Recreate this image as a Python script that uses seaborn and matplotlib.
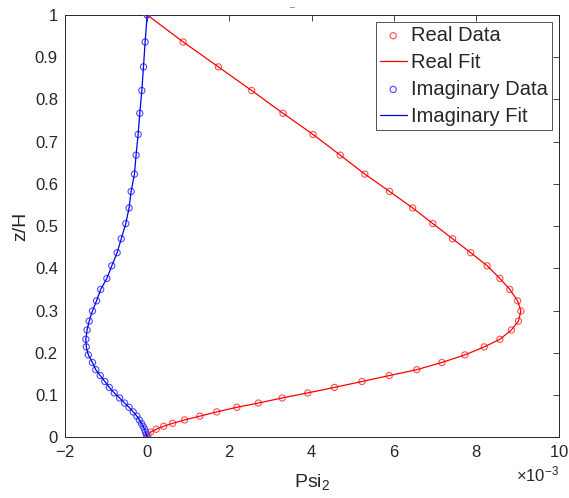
import numpy as np
import seaborn as sns
import matplotlib.pyplot as plt
from matplotlib.ticker import ScalarFormatter, FuncFormatter

# z/H levels (shared by both series)
z = [1.000, 0.936, 0.877, 0.821, 0.767, 0.717, 0.668, 0.623, 0.582, 0.543,
     0.506, 0.470, 0.437, 0.406, 0.376, 0.350, 0.323, 0.299, 0.275, 0.254,
     0.232, 0.214, 0.195, 0.177, 0.160, 0.146, 0.132, 0.118, 0.105, 0.093,
     0.081, 0.071, 0.060, 0.050, 0.041, 0.033, 0.026, 0.019, 0.012, 0.006, 0.000]

# values in units of 1e-3
psi_real = [0.0, 0.875, 1.73, 2.54, 3.30, 4.03, 4.69, 5.29, 5.89, 6.45,
            6.94, 7.42, 7.86, 8.26, 8.57, 8.81, 9.00, 9.08, 9.02, 8.85,
            8.57, 8.19, 7.72, 7.16, 6.55, 5.88, 5.22, 4.55, 3.90, 3.28,
            2.70, 2.18, 1.69, 1.28, 0.91, 0.62, 0.40, 0.22, 0.08, 0.02, 0.0]
psi_imag = [0.0, -0.05, -0.09, -0.13, -0.18, -0.22, -0.27, -0.31, -0.39, -0.44,
            -0.52, -0.63, -0.73, -0.86, -0.98, -1.13, -1.23, -1.33, -1.41, -1.46,
            -1.49, -1.48, -1.43, -1.33, -1.25, -1.14, -1.03, -0.92, -0.80, -0.67,
            -0.55, -0.44, -0.34, -0.25, -0.19, -0.14, -0.10, -0.065, -0.04, -0.02, 0.0]

xr = np.array(psi_real) * 1e-3
xi = np.array(psi_imag) * 1e-3

sns.set_theme(style="white")
plt.rcParams['font.family'] = ['Liberation Sans', 'DejaVu Sans']
plt.rcParams['mathtext.fontset'] = 'custom'
plt.rcParams['mathtext.rm'] = 'Liberation Sans'

fig = plt.figure(figsize=(5.69, 4.98), dpi=100)
ax = fig.add_axes([0.114, 0.122, 0.868, 0.848])

sns.scatterplot(x=xr, y=z, ax=ax, marker='o', s=20, facecolor='none',
                edgecolor='#ff5050', linewidth=0.8, label='Real Data', zorder=3)
sns.lineplot(x=xr, y=z, ax=ax, sort=False, estimator=None, color='red',
             linewidth=0.9, label='Real Fit', zorder=4)
sns.scatterplot(x=xi, y=z, ax=ax, marker='o', s=20, facecolor='none',
                edgecolor='#4a4aff', linewidth=0.8, label='Imaginary Data', zorder=5)
sns.lineplot(x=xi, y=z, ax=ax, sort=False, estimator=None, color='#0000ee',
             linewidth=0.9, label='Imaginary Fit', zorder=6)

ax.set_xlim(-2e-3, 10e-3)
ax.set_ylim(0, 1)
ax.set_xticks(np.arange(-2, 11, 2) * 1e-3)
ax.set_yticks(np.arange(0, 1.01, 0.1))
ax.yaxis.set_major_formatter(FuncFormatter(lambda v, p: f"{v:.1f}".rstrip('0').rstrip('.') if v else "0"))
fmt = ScalarFormatter(useMathText=True)
fmt.set_powerlimits((-3, -3))
ax.xaxis.set_major_formatter(fmt)
ax.xaxis.get_offset_text().set_fontsize(12)
ax.xaxis.get_offset_text().set_color('#444444')

ax.tick_params(direction='in', length=4, width=0.6, top=True, right=True,
               labelsize=12, colors='#262626', pad=5)
for s in ax.spines.values():
    s.set_color('#262626')
    s.set_linewidth(0.7)

ax.set_xlabel('Psi$_{2}$', fontsize=14, color='#262626', labelpad=9)
ax.set_ylabel('z/H', fontsize=14, color='#262626', labelpad=4)
fig.text(0.512, 0.998, '_', fontsize=6, ha='center', va='top', color='#262626')

leg = ax.legend(loc='upper right', fontsize=14.5, frameon=True, fancybox=False,
                edgecolor='#262626', borderpad=0.2, labelspacing=0.39,
                handlelength=1.35, handletextpad=0.2, borderaxespad=0.35)
leg.get_frame().set_linewidth(0.7)

fig.savefig('out.png', dpi=100)
